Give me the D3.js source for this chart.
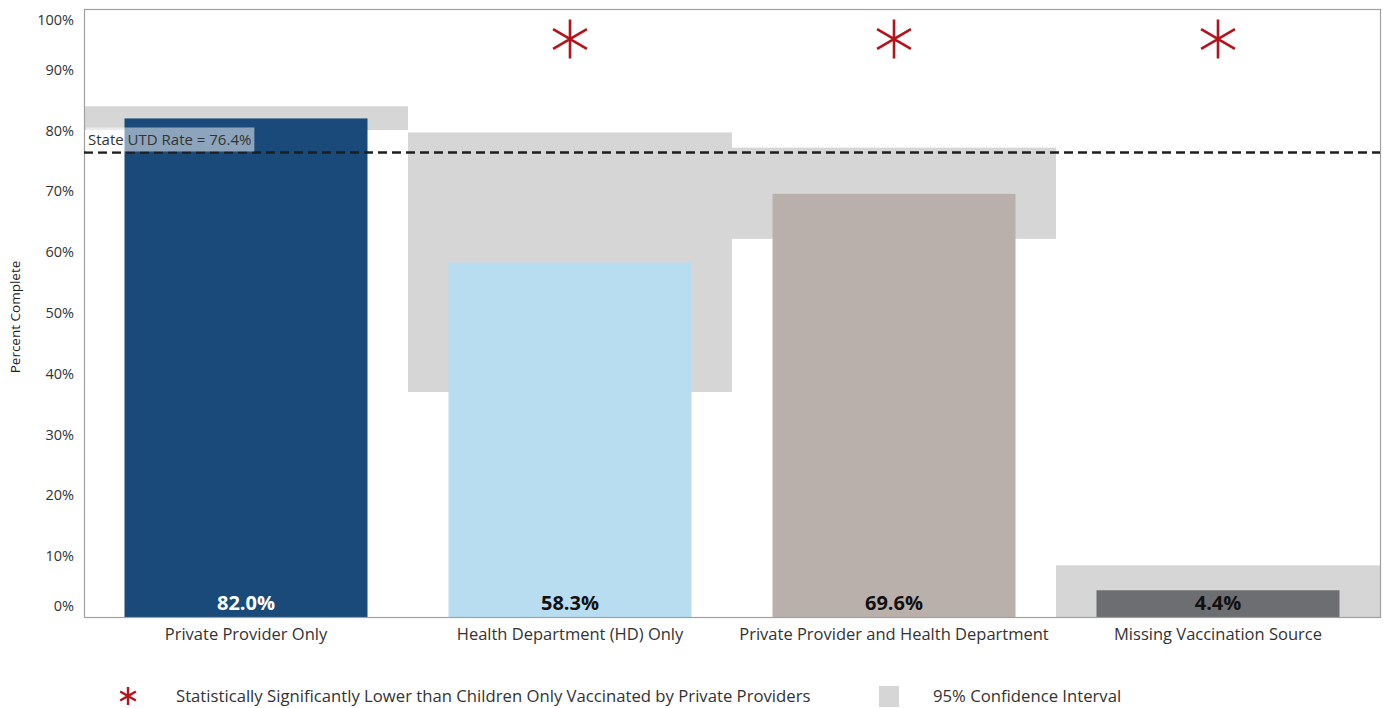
<!DOCTYPE html>
<html>
<head>
<meta charset="utf-8">
<script src="https://cdn.jsdelivr.net/npm/d3@7"></script>
<style>
  html, body { margin: 0; padding: 0; background: #fff; }
  svg { display: block; font-family: "Open Sans", "Noto Sans", sans-serif; }
</style>
</head>
<body>
<svg id="chart" width="1383" height="708"></svg>
<script>
// Vaccination completion by source of vaccination
const categories = [
  "Private Provider Only",
  "Health Department (HD) Only",
  "Private Provider and Health Department",
  "Missing Vaccination Source"
];
const rates = [82.0, 58.3, 69.6, 4.4];
const ciLower = [80.1, 37.0, 62.2, 0.0];
const ciUpper = [84.0, 79.7, 77.2, 8.5];
const significantlyLower = [false, true, true, true];
const barColors = ["#194a7a", "#b8ddf0", "#bab0ab", "#6d6e71"];
const labelColors = ["#ffffff", "#111111", "#111111", "#111111"];
const stateRate = 76.4;
const yTicks = [0, 10, 20, 30, 40, 50, 60, 70, 80, 90, 100];

const svg = d3.select("#chart");
const plot = { left: 84, right: 1380, top: 9, bottom: 617 };

const x = d3.scaleBand().domain(categories).range([plot.left, plot.right]).padding(0);
const y = d3.scaleLinear().domain([0, 100]).range([plot.bottom, plot.top]);
const barInset = x.bandwidth() * 0.125;
const barW = x.bandwidth() * 0.75;
const red = "#b5121b";
const ciColor = "#d6d6d6";

// confidence interval bands
svg.append("g").selectAll("rect")
  .data(categories)
  .join("rect")
  .attr("x", d => x(d))
  .attr("width", x.bandwidth())
  .attr("y", (d, i) => y(ciUpper[i]))
  .attr("height", (d, i) => y(ciLower[i]) - y(ciUpper[i]))
  .attr("fill", ciColor);

// bars
svg.append("g").selectAll("rect")
  .data(categories)
  .join("rect")
  .attr("x", d => x(d) + barInset)
  .attr("width", barW)
  .attr("y", (d, i) => y(rates[i]))
  .attr("height", (d, i) => y(0) - y(rates[i]))
  .attr("fill", (d, i) => barColors[i]);

// value labels at the base of each bar
svg.append("g").selectAll("text")
  .data(categories)
  .join("text")
  .attr("x", d => x(d) + x.bandwidth() / 2)
  .attr("y", y(0) - 7)
  .attr("text-anchor", "middle")
  .attr("font-size", 20)
  .attr("font-weight", "bold")
  .attr("fill", (d, i) => labelColors[i])
  .text((d, i) => rates[i].toFixed(1) + "%");

// frame
svg.append("rect")
  .attr("x", plot.left + 0.5)
  .attr("y", plot.top + 0.5)
  .attr("width", plot.right - plot.left)
  .attr("height", plot.bottom - plot.top)
  .attr("fill", "none")
  .attr("stroke", "#a0a0a0")
  .attr("stroke-width", 1.2);

// state reference line
svg.append("line")
  .attr("x1", plot.left).attr("x2", plot.right)
  .attr("y1", y(stateRate)).attr("y2", y(stateRate))
  .attr("stroke", "#1e1e1e")
  .attr("stroke-width", 2.4)
  .attr("stroke-dasharray", "9,5");

const refLabel = svg.append("g");
const refText = refLabel.append("text")
  .attr("x", 88)
  .attr("y", y(stateRate) - 7)
  .attr("font-size", 15)
  .attr("fill", "#333")
  .text("State UTD Rate = " + stateRate.toFixed(1) + "%");
const bb = refText.node().getBBox();
refLabel.insert("rect", "text")
  .attr("x", bb.x - 2)
  .attr("y", y(stateRate) - 25)
  .attr("width", bb.width + 5)
  .attr("height", 24)
  .attr("fill", "#ffffff")
  .attr("fill-opacity", 0.5);

// significance markers
const asterisk = d3.symbol(d3.symbolAsterisk, 1080);
svg.append("g").selectAll("path")
  .data(categories.filter((d, i) => significantlyLower[i]))
  .join("path")
  .attr("transform", d => `translate(${x(d) + x.bandwidth() / 2},39)`)
  .attr("d", asterisk)
  .attr("fill", "none")
  .attr("stroke", red)
  .attr("stroke-width", 2.6);

// y axis labels
svg.append("g").selectAll("text")
  .data(yTicks)
  .join("text")
  .attr("x", 74)
  .attr("y", d => Math.min(Math.max(y(d), 20), 606))
  .attr("dy", "0.35em")
  .attr("text-anchor", "end")
  .attr("font-size", 14.5)
  .attr("fill", "#333")
  .text(d => d + "%");

svg.append("text")
  .attr("transform", `translate(20,${(plot.top + plot.bottom) / 2 + 4}) rotate(-90)`)
  .attr("text-anchor", "middle")
  .attr("font-size", 13.5)
  .attr("fill", "#222")
  .text("Percent Complete");

// category labels
svg.append("g").selectAll("text")
  .data(categories)
  .join("text")
  .attr("x", d => x(d) + x.bandwidth() / 2)
  .attr("y", 640)
  .attr("text-anchor", "middle")
  .attr("font-size", 16.5)
  .attr("fill", "#333")
  .text(d => d);

// legend
const legend = svg.append("g");
legend.append("path")
  .attr("transform", "translate(128,696)")
  .attr("d", d3.symbol(d3.symbolAsterisk, 230))
  .attr("fill", "none")
  .attr("stroke", red)
  .attr("stroke-width", 2.4);
legend.append("text")
  .attr("x", 176).attr("y", 702)
  .attr("font-size", 16.7)
  .attr("fill", "#333")
  .text("Statistically Significantly Lower than Children Only Vaccinated by Private Providers");
legend.append("rect")
  .attr("x", 879).attr("y", 686)
  .attr("width", 20).attr("height", 21)
  .attr("fill", ciColor);
legend.append("text")
  .attr("x", 933).attr("y", 702)
  .attr("font-size", 16.7)
  .attr("fill", "#333")
  .text("95% Confidence Interval");
</script>
</body>
</html>
